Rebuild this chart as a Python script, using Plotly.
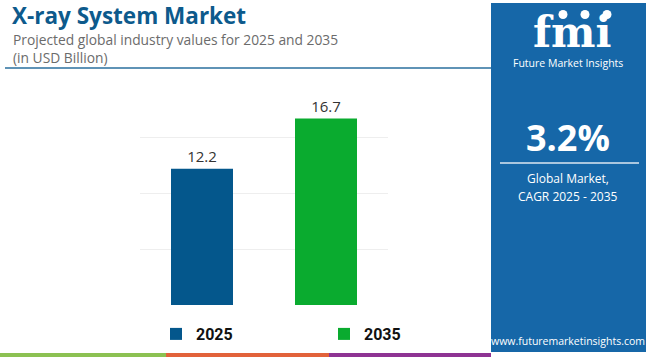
import plotly.graph_objects as go

years = ["2025", "2035"]
values = [12.2, 16.7]
bar_colors = ["#04578c", "#0aab2f"]
ytick_vals = [0, 5, 10, 15]

W, H = 650, 357
def px(x):
    return x / W
def py(y):
    return 1 - y / H

fig = go.Figure()
for yr, v, c in zip(years, values, bar_colors):
    fig.add_trace(go.Bar(
        x=[yr], y=[v], name=yr, marker=dict(color=c, line=dict(width=0)),
        text=[f"{v:.1f}"], textposition="outside", cliponaxis=False,
        textfont=dict(family="Open Sans", size=15, color="#333333"),
        width=0.5, hoverinfo="skip",
    ))

fig.update_layout(
    width=W, height=H, margin=dict(l=0, r=0, t=0, b=0),
    paper_bgcolor="white", plot_bgcolor="white",
    barmode="overlay",
    showlegend=True,
    legend=dict(orientation="h", x=px(156), y=py(334), xanchor="left", yanchor="middle",
                entrywidth=123, entrywidthmode="pixels",
                font=dict(family="Roboto", size=16, color="#111111", weight="bold"),
                bgcolor="rgba(0,0,0,0)"),
    xaxis=dict(domain=[px(140), px(388)], range=[-0.5, 1.5], showticklabels=False,
               showgrid=False, zeroline=False, showline=False, ticks=""),
    yaxis=dict(domain=[py(305), py(104)], range=[0, 18], tickvals=ytick_vals,
               showticklabels=False, showgrid=True, gridcolor="#eeeeee", gridwidth=1,
               zeroline=False, showline=False, ticks=""),
)

shapes = []
# title underline
shapes.append(dict(type="line", xref="paper", yref="paper", x0=px(5), x1=px(491), y0=py(68), y1=py(68),
                   line=dict(color="#2a6f9e", width=1.5)))
# bottom colored strip
for x0, x1, c in [(0, 166, "#8cc152"), (166, 329, "#e2623a"), (329, 491, "#8e3393")]:
    shapes.append(dict(type="rect", xref="paper", yref="paper", x0=px(x0), x1=px(x1),
                       y0=py(357), y1=py(353), fillcolor=c, line=dict(width=0)))
# right panel
shapes.append(dict(type="rect", xref="paper", yref="paper", x0=px(491), x1=px(646), y0=py(352), y1=py(3),
                   fillcolor="#1667a8", line=dict(width=0), layer="below"))
shapes.append(dict(type="line", xref="paper", yref="paper", x0=px(500), x1=px(639), y0=py(163), y1=py(163),
                   line=dict(color="rgba(255,255,255,0.85)", width=1.5)))
# small logo icons
for cx in [563, 585, 607]:
    shapes.append(dict(type="circle", xref="paper", yref="paper", x0=px(cx - 4.5), x1=px(cx + 4.5),
                       y0=py(19), y1=py(10), fillcolor="white", line=dict(width=0)))
fig.update_layout(shapes=shapes)

ann = []
def add(text, x, y, size, color, xanchor="left", weight="normal", family="Open Sans"):
    ann.append(dict(text=text, x=px(x), y=py(y), xref="paper", yref="paper", showarrow=False,
                    xanchor=xanchor, yanchor="middle",
                    font=dict(family=family, size=size, color=color, weight=weight)))

add("X-ray System Market", 10, 16, 22.5, "#0d5a8c", weight="bold")
add("Projected global industry values for 2025 and 2035", 11, 39, 13.8, "#6b6b6b")
add("(in USD Billion)", 11, 58, 13.8, "#6b6b6b")
add("fmi", 572, 32, 42, "white", xanchor="center", weight="bold", family="DejaVu Serif")
add("Future Market Insights", 568, 63, 10.5, "white", xanchor="center")
add("3.2%", 568, 137, 36, "white", xanchor="center", weight="bold")
add("Global Market,", 568, 178, 12, "white", xanchor="center")
add("CAGR 2025 - 2035", 568, 196, 12, "white", xanchor="center")
add("www.futuremarketinsights.com", 568, 341, 10.5, "white", xanchor="center")
fig.update_layout(annotations=ann)

fig.write_html("out.html", config={"displayModeBar": False},
               post_script="document.body.style.margin='0';document.body.style.overflow='hidden';")
